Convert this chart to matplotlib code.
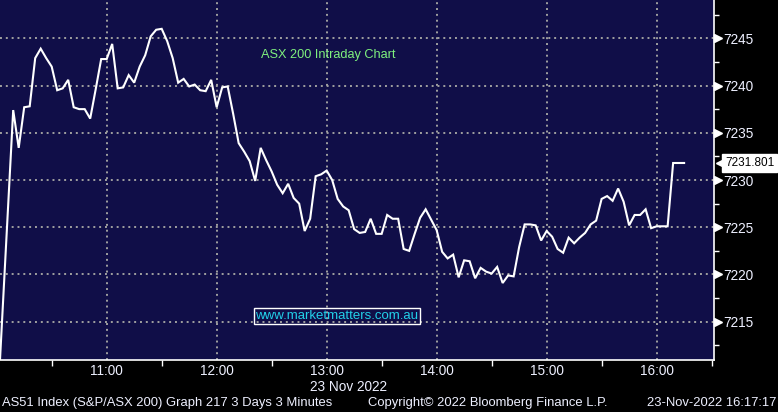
import matplotlib
matplotlib.use("Agg")
import matplotlib.pyplot as plt
import matplotlib.dates as mdates
import matplotlib.transforms as mtransforms
from matplotlib.ticker import MultipleLocator
import pandas as pd

plt.rcParams['font.family'] = ['Liberation Sans', 'DejaVu Sans']

title = "ASX 200 Intraday Chart"
watermark = "www.marketmatters.com.au"
date_label = "23 Nov 2022"
footer_left = "AS51 Index (S&P/ASX 200) Graph 217 3 Days 3 Minutes"
footer_mid = "Copyright\u00a9 2022 Bloomberg Finance L.P."
footer_right = "23-Nov-2022 16:17:17"
start_time = "2022-11-23 10:00"
last_price = 7231.801

values = [
    7204.3, 7215.4, 7226.4, 7237.4, 7233.4, 7237.7, 7237.8, 7242.9, 7243.9, 7242.9,
    7242.0, 7239.5, 7239.7, 7240.6, 7237.7, 7237.5, 7237.5, 7236.5, 7239.6, 7242.8,
    7242.8, 7244.4, 7239.7, 7239.8, 7241.1, 7240.3, 7242.0, 7243.2, 7245.2, 7245.9,
    7246.0, 7244.7, 7242.9, 7240.3, 7240.7, 7239.9, 7240.1, 7239.5, 7239.4, 7240.6,
    7237.7, 7239.8, 7239.9, 7237.0, 7233.9, 7233.0, 7232.0, 7229.9, 7233.4, 7232.1,
    7230.9, 7229.5, 7228.6, 7229.6, 7228.1, 7227.5, 7224.6, 7225.9, 7230.4, 7230.6,
    7231.0, 7230.0, 7228.0, 7227.2, 7226.8, 7224.8, 7224.4, 7224.5, 7225.9, 7224.3,
    7224.3, 7226.3, 7225.9, 7225.9, 7222.7, 7222.5, 7224.3, 7226.0, 7226.9, 7225.8,
    7224.7, 7222.4, 7221.7, 7222.1, 7219.7, 7221.5, 7221.4, 7219.6, 7220.7, 7220.3,
    7220.1, 7220.8, 7219.1, 7219.9, 7219.8, 7222.9, 7225.3, 7225.3, 7225.2, 7223.6,
    7224.6, 7224.0, 7222.7, 7222.3, 7223.9, 7223.3, 7223.9, 7224.4, 7225.3, 7225.7,
    7228.0, 7228.3, 7227.8, 7229.1, 7227.7, 7225.2, 7226.3, 7226.3, 7226.9, 7224.9,
    7225.1, 7225.1, 7225.1, 7231.8, 7231.8, 7231.801,
]
times = pd.date_range(start_time, periods=len(values), freq="3min")

W, H = 778, 412
fig = plt.figure(figsize=(W / 100, H / 100), dpi=100, facecolor="black")
ax = fig.add_axes([0, 1 - 360 / H, 714 / W, 360 / H])
ax.set_facecolor("#100e48")

ax.plot(times, values, color="white", lw=1.5, solid_joinstyle="miter", zorder=3)

ax.set_xlim(pd.Timestamp("2022-11-23 10:01:48"), pd.Timestamp("2022-11-23 16:31:18"))
ax.set_ylim(7210.95, 7249.05)

ax.xaxis.set_major_locator(mdates.HourLocator())
ax.xaxis.set_minor_locator(mdates.MinuteLocator(byminute=30))
ax.xaxis.set_major_formatter(mdates.DateFormatter("%H:%M"))
ax.yaxis.set_major_locator(MultipleLocator(5))
ax.yaxis.set_minor_locator(MultipleLocator(2.5))
ax.yaxis.tick_right()

ax.grid(True, which="major", color="#a0a0a0", linestyle=(0, (1, 2)), lw=1.4)

tick_col = "#eef0ff"
ax.tick_params(axis="x", which="major", length=0, pad=3, labelsize=9.8, labelcolor=tick_col)
ax.tick_params(axis="x", which="minor", length=4, width=1, color="white", direction="out")
ax.tick_params(axis="y", which="major", length=0, pad=7, labelsize=9.8, labelcolor=tick_col)
ax.tick_params(axis="y", which="minor", length=3.5, width=1, color="white", direction="out")

for s in ["left", "top"]:
    ax.spines[s].set_visible(False)
for s in ["right", "bottom"]:
    ax.spines[s].set_color("white")
    ax.spines[s].set_linewidth(1.2)

blend = mtransforms.blended_transform_factory(ax.transAxes, ax.transData)

# triangle markers at major y ticks
tri_tr = blend + mtransforms.ScaledTranslation(3.5 / 100, 0, fig.dpi_scale_trans)
yt = [t for t in ax.get_yticks() if 7210.95 <= t <= 7249.05]
ax.plot([1] * len(yt), yt, marker=">", ms=5.5, color="white", lw=0,
        transform=tri_tr, clip_on=False, zorder=5)

# last price tag
tag_tr = blend + mtransforms.ScaledTranslation(11 / 100, 0, fig.dpi_scale_trans)
ax.text(1, last_price, f"{last_price:.3f}", transform=tag_tr, ha="left", va="center",
        fontsize=8.5, color="black", clip_on=False, zorder=6,
        bbox=dict(boxstyle="square,pad=0.22", fc="white", ec="white"))
arr_tr = blend + mtransforms.ScaledTranslation(6.5 / 100, 0, fig.dpi_scale_trans)
ax.plot([1], [last_price], marker="<", ms=7, color="white", lw=0,
        transform=arr_tr, clip_on=False, zorder=6)

ax.text(261 / 714, 1 - 55 / 360, title, transform=ax.transAxes, color="#7ef07e",
        fontsize=9.2, ha="left", va="center")
ax.text(337 / 714, 1 - 316 / 360, watermark, transform=ax.transAxes, color="#22d0e8",
        fontsize=9.5, ha="center", va="center",
        bbox=dict(boxstyle="square,pad=0.15", fc="none", ec="white", lw=1))

fig.text(348 / W, 1 - 387 / H, date_label, color=tick_col, fontsize=9.8, ha="center", va="center")
fig.text(2 / W, 1 - 403 / H, footer_left, color=tick_col, fontsize=9.4, ha="left", va="center")
fig.text(368 / W, 1 - 403 / H, footer_mid, color=tick_col, fontsize=9.4, ha="left", va="center")
fig.text(776 / W, 1 - 403 / H, footer_right, color=tick_col, fontsize=9.4, ha="right", va="center")

fig.savefig("out.png", dpi=100, facecolor="black")
